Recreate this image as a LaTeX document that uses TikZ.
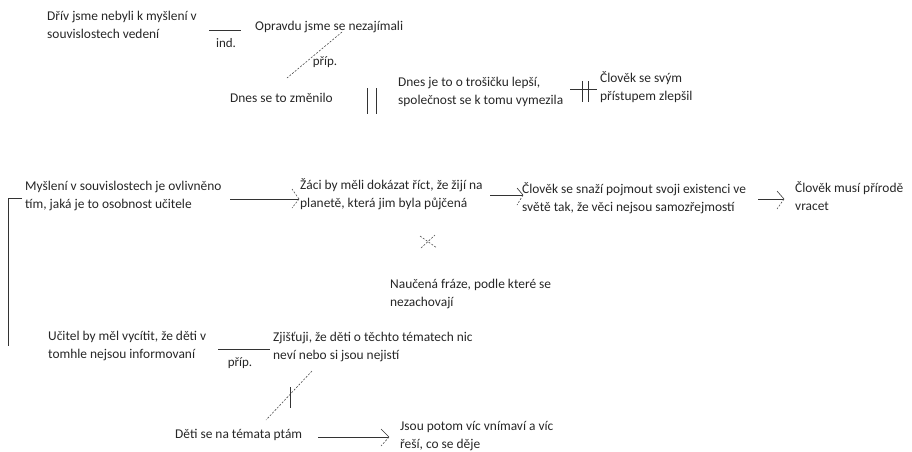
\documentclass[tikz,border=0pt]{standalone}
\usepackage{fontspec}
\setmainfont{Carlito}
\usetikzlibrary{calc}
\begin{document}
\begin{tikzpicture}[x=1pt,y=-1pt,
  txt/.style={anchor=west,align=left,inner sep=0pt,text=black!85,
    font=\fontsize{13.4}{18.5}\selectfont},
  lbl/.style={inner sep=0pt,text=black!85,font=\fontsize{13}{14}\selectfont},
  ln/.style={draw=black!80,line width=0.8pt},
  dsh/.style={draw=black!70,line width=0.6pt,dash pattern=on 2pt off 1.5pt},
]
\useasboundingbox (0,0) rectangle (912,451);

% ---- upper cluster ----
\node[txt] (driv) at (47,25) {Dřív jsme nebyli k myšlení v\\souvislostech vedení};
\node[txt] (oprav) at (255,27) {Opravdu jsme se nezajímali};
\node[txt] (zmen) at (230,98) {Dnes se to změnilo};
\node[txt] (lepsi) at (398,92) {Dnes je to o trošičku lepší,\\společnost se k tomu vymezila};
\node[txt] (clovek1) at (600,87) {Člověk se svým\\přístupem zlepšil};

% ind. link
\coordinate (i1) at (209,30);
\coordinate (i2) at (241,30);
\draw[ln] (i1) -- (i2);
\node[lbl] (ind) at (226,43) {ind.};

% dashed příp. link
\coordinate (p1) at (342,32);
\coordinate (p2) at (287,78);
\draw[dsh] (p1) -- (p2);
\node[lbl] (prip1) at (325,62) {příp.};

% double bar between the two Dnes statements
\draw[ln] (367,88) -- (367,114);
\draw[ln] (376,88) -- (376,114);

% crossed link
\coordinate (c1) at (570,89);
\coordinate (c2) at (597,89);
\draw[ln] (c1) -- (c2);
\draw[ln] (582,81) -- (582,102);
\draw[ln] (588,81) -- (588,102);

% ---- middle chain ----
\node[txt] (mysl) at (25,196) {Myšlení v souvislostech je ovlivněno\\tím, jaká je to osobnost učitele};
\node[txt] (zaci) at (300,194) {Žáci by měli dokázat říct, že žijí na\\planetě, která jim byla půjčená};
\node[txt] (clovek2) at (522,198) {Člověk se snaží pojmout svoji existenci ve\\světě tak, že věci nejsou samozřejmostí};
\node[txt] (clovek3) at (795,196) {Člověk musí přírodě\\vracet};
\node[txt] (fraze) at (390,294) {Naučená fráze, podle které se\\nezachovají};

% left bracket joining the two teacher statements
\draw[ln] (22,198) -- (8,198) -- (8,346);

% arrow 1
\coordinate (a1s) at (230,199);
\coordinate (a1t) at (299,199);
\draw[ln] (a1s) -- (a1t);
\draw[dsh] (a1t) -- ++(-7,-10);
\draw[dsh] (a1t) -- ++(-7,9);

% arrow 2
\coordinate (a2s) at (490,195);
\coordinate (a2t) at (523,195);
\draw[ln] (a2s) -- (a2t);
\draw[ln,line width=0.6pt] (a2t) -- ++(-6,-7);
\draw[dsh] (a2t) -- ++(-6,10);

% arrow 3
\coordinate (a3s) at (758,199);
\coordinate (a3t) at (784,199);
\draw[ln] (a3s) -- (a3t);
\draw[ln,line width=0.6pt] (a3t) -- ++(-7,-8);
\draw[dsh] (a3t) -- ++(-7,10);

% dashed cross
\draw[dsh] (420,236) -- (437,248);
\draw[dsh] (421,248) -- (435,235);

% ---- lower cluster ----
\node[txt] (ucitel) at (48,346) {Učitel by měl vycítit, že děti v\\tomhle nejsou informovaní};
\node[txt] (zjis) at (273,347) {Zjišťuji, že děti o těchto tématech nic\\neví nebo si jsou nejistí};
\node[txt] (ptam) at (175,435) {Děti se na témata ptám};
\node[txt] (jsou) at (400,436) {Jsou potom víc vnímaví a víc\\řeší, co se děje};

% příp. link
\coordinate (q1) at (218,349);
\coordinate (q2) at (270,349);
\draw[ln] (q1) -- (q2);
\node[lbl] (prip2) at (240,363) {příp.};

% dashed link with tick
\coordinate (d1) at (312,371);
\coordinate (d2) at (266,420);
\draw[dsh] (d1) -- (d2);
\draw[ln] (290,387) -- (290,408);

% arrow 4
\coordinate (a4s) at (318,437);
\coordinate (a4t) at (389,437);
\draw[ln] (a4s) -- (a4t);
\draw[ln,line width=0.6pt] (a4t) -- ++(-8,-8);
\draw[dsh] (a4t) -- ++(-8,9);
\end{tikzpicture}
\end{document}
